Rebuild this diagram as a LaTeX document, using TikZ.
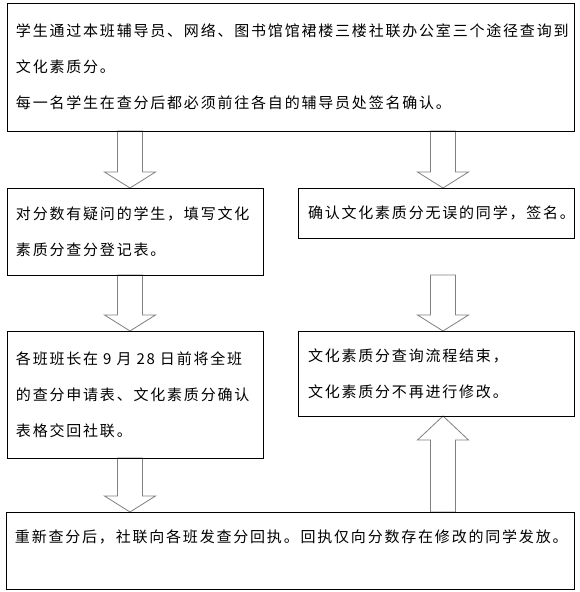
\documentclass[tikz,border=0pt]{standalone}
\usepackage{fontspec}
\usepackage{xcolor}
\usepackage{tikz}
\usetikzlibrary{calc, backgrounds}
\newfontfamily\cjk[LetterSpace=12]{Noto Sans CJK SC}
\definecolor{arrowgray}{RGB}{128, 128, 128}

% hollow block arrow: [head length]{tail}{tip}
\newcommand{\blockarrow}[3][16pt]{%
  \path (#2) coordinate (ba-tail) (#3) coordinate (ba-tip);
  \path ($(ba-tip)!#1!(ba-tail)$) coordinate (ba-base);
  \draw[blockarrow]
    ($(ba-tail)!12.5pt!90:(ba-tip)$) -- ($(ba-base)!12.5pt!90:(ba-tip)$) --
    ($(ba-base)!25.5pt!90:(ba-tip)$) -- (ba-tip) --
    ($(ba-base)!25.5pt!-90:(ba-tip)$) -- ($(ba-base)!12.5pt!-90:(ba-tip)$) --
    ($(ba-tail)!12.5pt!-90:(ba-tip)$) -- cycle;
}

\begin{document}
\begin{tikzpicture}[
    x=1pt, y=-1pt,
    font=\fontsize{15}{36}\selectfont\cjk,
    stepbox/.style={rectangle, draw=black, line width=0.8pt,
                    anchor=north west, align=left,
                    inner xsep=9pt, inner ysep=0pt, outer sep=0pt},
    blockarrow/.style={draw=arrowgray, fill=white, line width=0.8pt},
]
\useasboundingbox (0,0) rectangle (579,592);

% ============================================================
% BOXES
% ============================================================
\node[stepbox, minimum width=567pt, text width=549pt, minimum height=128pt]
    (query) at (7,3)
    {学生通过本班辅导员、网络、图书馆馆裙楼三楼社联办公室三个途径查询到\\
     文化素质分。\\
     每一名学生在查分后都必须前往各自的辅导员处签名确认。};

\node[stepbox, minimum width=256pt, text width=238pt, minimum height=87pt]
    (doubt) at (7,188)
    {对分数有疑问的学生，填写文化\\素质分查分登记表。};

\node[stepbox, minimum width=276pt, text width=256pt, minimum height=50pt,
      inner xsep=10pt]
    (confirm) at (298,188)
    {确认文化素质分无误的同学，签名。};

\node[stepbox, minimum width=256pt, text width=238pt, minimum height=127pt]
    (submit) at (7,331)
    {各班班长在 9 月 28 日前将全班\\的查分申请表、文化素质分确认\\表格交回社联。};

\node[stepbox, minimum width=276pt, text width=256pt, minimum height=85pt,
      inner xsep=10pt]
    (closed) at (298,331)
    {文化素质分查询流程结束，\\文化素质分不再进行修改。};

\node[stepbox, minimum width=568pt, text width=550pt, minimum height=77pt,
      text height=12pt, text depth=27.6pt]
    (receipt) at (6,512)
    {重新查分后，社联向各班发查分回执。回执仅向分数存在修改的同学发放。};

% arrow columns
\coordinate (colL) at (130,0);
\coordinate (colR) at (443,0);

% ============================================================
% BLOCK ARROWS
% ============================================================
\begin{scope}[on background layer]
\fill[white] (0,0) rectangle (579,592);
\blockarrow{query.south -| colL}{doubt.north -| colL}
\blockarrow{query.south -| colR}{confirm.north -| colR}
\blockarrow{doubt.south -| colL}{submit.north -| colL}
\blockarrow{doubt.south -| colR}{closed.north -| colR}
\blockarrow{submit.south -| colL}{receipt.north -| colL}
\blockarrow[24pt]{receipt.north -| colR}{closed.south -| colR}
\end{scope}

\end{tikzpicture}
\end{document}
